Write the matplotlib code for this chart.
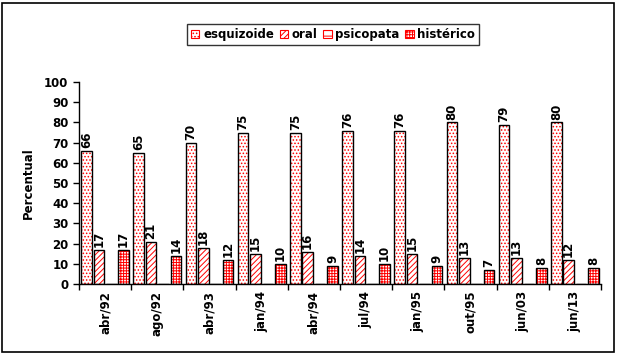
import matplotlib
matplotlib.use('Agg')
import matplotlib.pyplot as plt
from matplotlib.patches import Rectangle, Patch
import numpy as np

# data
datas = ['abr/92', 'ago/92', 'abr/93', 'jan/94', 'abr/94',
         'jul/94', 'jan/95', 'out/95', 'jun/03', 'jun/13']
esquizoide = [66, 65, 70, 75, 75, 76, 76, 80, 79, 80]
oral = [17, 21, 18, 15, 16, 14, 15, 13, 13, 12]
psicopata = [0, 0, 0, 0, 0, 0, 0, 0, 0, 0]
historico = [17, 14, 12, 10, 9, 10, 9, 7, 8, 8]

series = [('esquizoide', esquizoide, '.....'),
          ('oral', oral, '//////'),
          ('psicopata', psicopata, '---'),
          ('histérico', historico, '++++++')]

plt.rcParams['font.family'] = 'DejaVu Sans'
plt.rcParams['font.weight'] = 'bold'
plt.rcParams['hatch.linewidth'] = 0.7

fig = plt.figure(figsize=(6.17, 3.54), dpi=100)
ax = fig.add_axes([0.128, 0.198, 0.846, 0.570])

x = np.arange(len(datas))
step = 0.2375
width = 0.205
handles = []
for k, (name, vals, hatch) in enumerate(series):
    pos = x + 0.5 + (k - 1.5) * step
    ax.bar(pos, vals, width, color='white', edgecolor='red', hatch=hatch,
           linewidth=0, zorder=2)
    ax.bar(pos, vals, width, fill=False, edgecolor='black', linewidth=1.0,
           zorder=3)
    for xp, v in zip(pos, vals):
        if v > 0:
            ax.text(xp, v + 1.2, str(v), rotation=90, ha='center', va='bottom',
                    fontsize=8.5, fontweight='bold')
    handles.append(Patch(facecolor='white', edgecolor='red', hatch=hatch,
                         linewidth=0.8, label=name))

ax.set_xlim(0, len(datas))
ax.set_ylim(0, 100)
ax.set_yticks(range(0, 101, 10))
ax.set_xticks(range(len(datas) + 1))
ax.set_xticklabels([])
ax.set_xticks(x + 0.5, minor=True)
ax.set_xticklabels(datas, minor=True, rotation=90, fontsize=8.5,
                   fontweight='bold')
ax.tick_params(axis='x', which='minor', length=0, pad=5)
ax.tick_params(axis='x', which='major', length=4, width=1)
ax.tick_params(axis='y', length=4, width=1, labelsize=8.5)
for lab in ax.get_yticklabels():
    lab.set_fontweight('bold')
ax.spines['top'].set_visible(False)
ax.spines['right'].set_visible(False)
ax.spines['left'].set_linewidth(1)
ax.spines['bottom'].set_linewidth(1)
ax.set_ylabel('Percentual', fontsize=8.5, fontweight='bold', labelpad=7)

leg = fig.legend(handles=handles, loc='center', ncol=4,
                 bbox_to_anchor=(0.54, 0.902), fontsize=8.5, frameon=True,
                 fancybox=False, edgecolor='black', handlelength=0.7,
                 handleheight=0.7, handletextpad=0.3, columnspacing=0.5,
                 borderpad=0.35)
leg.get_frame().set_linewidth(1)

fig.patches.append(Rectangle((0.004, 0.006), 0.991, 0.985,
                             transform=fig.transFigure, fill=False,
                             edgecolor='black', linewidth=1.2))

fig.savefig('out.png', dpi=100)
